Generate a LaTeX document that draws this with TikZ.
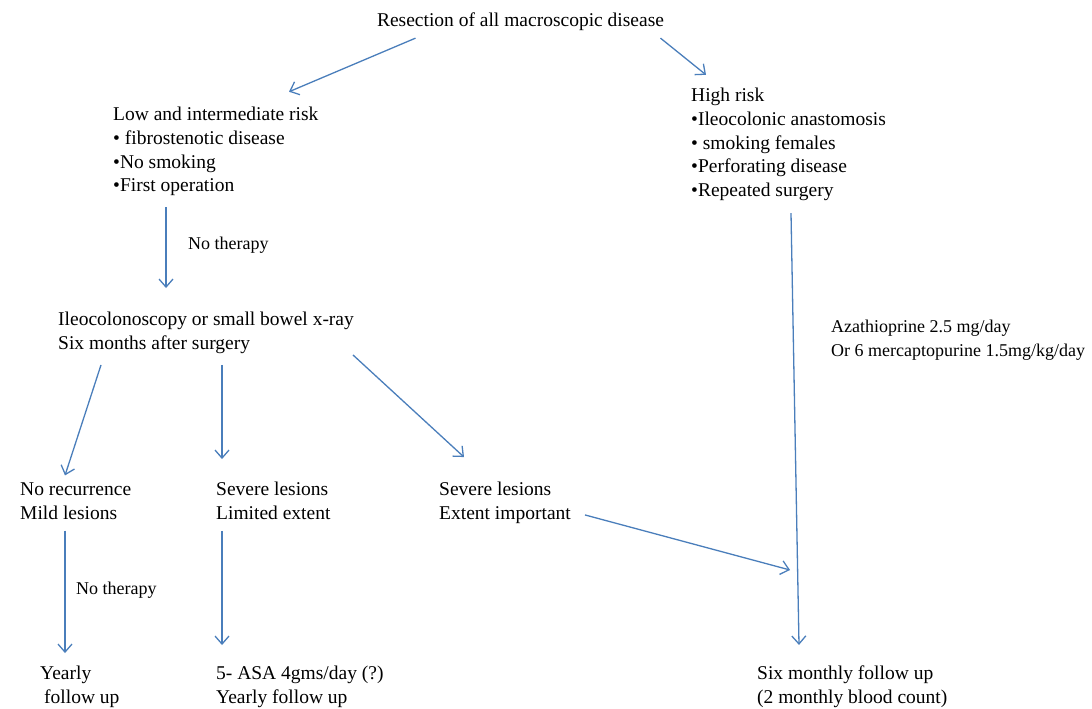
\documentclass[tikz,border=0pt]{standalone}
\usepackage{fontspec}
\setmainfont{Liberation Serif}
\usepackage{tikz}
\usetikzlibrary{calc,positioning,arrows.meta}
\usepackage{xcolor}
\definecolor{flowc}{RGB}{74,126,187}
\tikzset{
  blk/.style={anchor=west,align=left,inner sep=0pt,font=\fontsize{19.5}{23.8}\selectfont},
  lbl/.style={anchor=west,align=left,inner sep=0pt,font=\fontsize{18}{24}\selectfont},
  % open barbed arrows, as in the original flow chart
  flow/.style={-{Straight Barb[length=8pt,width=14pt,line width=1.3pt]},line width=1.3pt,flowc},
}
\begin{document}
\begin{tikzpicture}[x=1pt,y=-1pt]
  \useasboundingbox (0,0) rectangle (1092,709);
  % ---- top: surgery and the two risk groups ----
  \node[blk,anchor=center] (res) at (520.5,22) {Resection of all macroscopic disease};
  \node[blk] (low) at (113,151.5) {Low and intermediate risk\\• fibrostenotic disease\\•No smoking\\•First operation};
  \node[blk] (high) at (691,144.5) {High risk\\•Ileocolonic anastomosis\\• smoking females\\•Perforating disease\\•Repeated surgery};
  \draw[flow] ([xshift=-105pt,yshift=-7pt]res.south) -- ([xshift=176pt,yshift=15pt]low.north west);
  \draw[flow] ([xshift=140pt,yshift=-7pt]res.south) -- ([xshift=15pt,yshift=13pt]high.north west);
  % ---- left branch: endoscopic control ----
  \node[blk] (ileo) at (58,333) {Ileocolonoscopy or small bowel x-ray\\Six months after surgery};
  \draw[flow] ([xshift=53pt,yshift=-11pt]low.south west) -- ([xshift=108pt,yshift=24pt]ileo.north west);
  \node[lbl] (noth1) at (188,245) {No therapy};
  \node[blk] (norec) at (20,501) {No recurrence\\Mild lesions};
  \node[blk] (sevlim) at (216,501) {Severe lesions\\Limited extent};
  \node[blk] (sevext) at (439,503) {Severe lesions\\Extent important};
  \draw[flow] ([xshift=43pt,yshift=-11pt]ileo.south west) -- ([xshift=45pt,yshift=7pt]norec.north west);
  \draw[flow] ([xshift=164pt,yshift=-11pt]ileo.south west) -- ([xshift=6pt,yshift=23pt]sevlim.north west);
  \draw[flow] ([xshift=295pt,yshift=-1pt]ileo.south west) -- ([xshift=25pt,yshift=25pt]sevext.north west);
  % ---- follow up ----
  \node[blk] (yearly) at (40,687) {Yearly\\\hspace*{4pt}follow up};
  \node[blk] (asa) at (216,687) {5- ASA 4gms/day (?)\\Yearly follow up};
  \node[blk] (six) at (757,687) {Six monthly follow up\\(2 monthly blood count)};
  \draw[flow] ([xshift=45pt,yshift=-11pt]norec.south west) -- ([xshift=25pt,yshift=13pt]yearly.north west);
  \node[lbl] (noth2) at (76,590) {No therapy};
  \draw[flow] ([xshift=6pt,yshift=-11pt]sevlim.south west) -- ([xshift=6pt,yshift=21pt]asa.north west);
  % ---- right branch: immunosuppression ----
  \draw[flow] ([xshift=100pt,yshift=-12pt]high.south west) -- ([xshift=42pt,yshift=21pt]six.north west);
  \node[lbl] (aza) at (831,340) {Azathioprine 2.5 mg/day\\Or 6 mercaptopurine 1.5mg/kg/day};
  \coordinate (merge) at (790,570);
  \draw[flow] ([xshift=146pt,yshift=9pt]sevext.south west) -- (merge);
\end{tikzpicture}
\end{document}
